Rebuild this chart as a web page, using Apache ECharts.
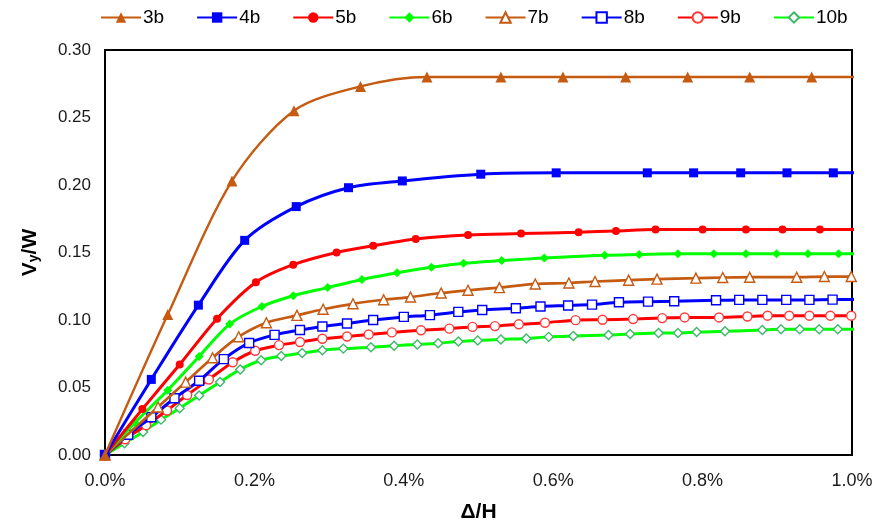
<!DOCTYPE html>
<html>
<head>
<meta charset="utf-8">
<script src="https://cdn.jsdelivr.net/npm/echarts@6/dist/echarts.min.js"></script>
<style>
  html, body { margin: 0; padding: 0; background: #fff; }
  #chart { width: 877px; height: 528px; }
</style>
</head>
<body>
<div id="chart"></div>
<script>
// Δ/H in percent, Vy/W values
var names = ['3b', '4b', '5b', '6b', '7b', '8b', '9b', '10b'];

var x3b = [0, 0.084, 0.170, 0.253, 0.342, 0.431, 0.530, 0.613, 0.697, 0.780, 0.863, 0.946, 1.029];
var y3b = [0, 0.104, 0.203, 0.255, 0.273, 0.280, 0.280, 0.280, 0.280, 0.280, 0.280, 0.280, 0.280];

var x4b = [0, 0.062, 0.125, 0.187, 0.256, 0.326, 0.398, 0.503, 0.604, 0.726, 0.788, 0.851, 0.913, 0.975, 1.037];
var y4b = [0, 0.056, 0.111, 0.159, 0.184, 0.198, 0.203, 0.208, 0.209, 0.209, 0.209, 0.209, 0.209, 0.209, 0.209];

var x5b = [0, 0.050, 0.100, 0.150, 0.202, 0.252, 0.310, 0.359, 0.416, 0.486, 0.557, 0.634, 0.684, 0.737, 0.800, 0.858, 0.907, 0.957, 1.007];
var y5b = [0, 0.034, 0.067, 0.101, 0.128, 0.141, 0.150, 0.155, 0.160, 0.163, 0.164, 0.165, 0.166, 0.167, 0.167, 0.167, 0.167, 0.167, 0.167];

var x6b = [0, 0.040, 0.084, 0.126, 0.167, 0.210, 0.252, 0.298, 0.344, 0.391, 0.437, 0.480, 0.531, 0.588, 0.669, 0.715, 0.767, 0.815, 0.858, 0.899, 0.941, 0.982, 1.024];
var y6b = [0, 0.024, 0.048, 0.073, 0.097, 0.110, 0.118, 0.124, 0.130, 0.135, 0.139, 0.142, 0.144, 0.146, 0.148, 0.1485, 0.149, 0.149, 0.149, 0.149, 0.149, 0.149, 0.149];

var x7b = [0, 0.071, 0.108, 0.144, 0.179, 0.216, 0.257, 0.292, 0.332, 0.373, 0.409, 0.450, 0.486, 0.528, 0.576, 0.621, 0.656, 0.701, 0.739, 0.791, 0.827, 0.863, 0.926, 0.963, 0.999];
var y7b = [0, 0.0356, 0.054, 0.072, 0.0876, 0.098, 0.1034, 0.108, 0.112, 0.115, 0.117, 0.120, 0.122, 0.124, 0.1267, 0.1274, 0.1285, 0.1295, 0.1303, 0.131, 0.1315, 0.1317, 0.1317, 0.1322, 0.1322];

var x8b = [0, 0.031, 0.062, 0.093, 0.126, 0.159, 0.193, 0.227, 0.261, 0.291, 0.324, 0.359, 0.400, 0.435, 0.473, 0.505, 0.550, 0.583, 0.620, 0.652, 0.688, 0.727, 0.762, 0.818, 0.849, 0.880, 0.912, 0.943, 0.974, 1.005];
var y8b = [0, 0.015, 0.028, 0.042, 0.055, 0.071, 0.083, 0.089, 0.0926, 0.0952, 0.0974, 0.100, 0.1023, 0.1036, 0.106, 0.1074, 0.1087, 0.110, 0.1107, 0.1114, 0.1131, 0.1136, 0.1139, 0.1146, 0.1149, 0.1149, 0.1149, 0.1149, 0.1151, 0.1151];

var x9b = [0, 0.027, 0.055, 0.083, 0.110, 0.139, 0.171, 0.201, 0.233, 0.261, 0.291, 0.324, 0.353, 0.384, 0.423, 0.461, 0.492, 0.522, 0.554, 0.589, 0.630, 0.666, 0.707, 0.746, 0.776, 0.822, 0.860, 0.887, 0.916, 0.943, 0.971, 0.999];
var y9b = [0, 0.0117, 0.0221, 0.033, 0.0444, 0.0559, 0.0687, 0.0772, 0.0814, 0.0837, 0.0861, 0.0878, 0.0893, 0.0908, 0.0924, 0.0936, 0.0949, 0.0955, 0.0968, 0.098, 0.0999, 0.1002, 0.1007, 0.1014, 0.1019, 0.1019, 0.1026, 0.1032, 0.1032, 0.1032, 0.1032, 0.1032];

var x10b = [0, 0.026, 0.051, 0.075, 0.100, 0.126, 0.154, 0.181, 0.209, 0.236, 0.264, 0.291, 0.319, 0.356, 0.387, 0.418, 0.446, 0.473, 0.499, 0.530, 0.564, 0.594, 0.627, 0.674, 0.703, 0.741, 0.767, 0.792, 0.830, 0.880, 0.905, 0.930, 0.956, 0.981, 1.007];
var y10b = [0, 0.0087, 0.017, 0.0262, 0.0347, 0.0441, 0.054, 0.0634, 0.0702, 0.0733, 0.0755, 0.0776, 0.0788, 0.0798, 0.081, 0.0819, 0.0828, 0.0841, 0.0848, 0.0856, 0.0863, 0.0875, 0.0881, 0.0889, 0.0897, 0.0904, 0.0904, 0.0911, 0.0916, 0.0926, 0.0931, 0.0931, 0.0931, 0.0931, 0.0931];

var xTicks = [0, 0.2, 0.4, 0.6, 0.8, 1.0];
var yTicks = [0, 0.05, 0.10, 0.15, 0.20, 0.25, 0.30];

var xs = [x3b, x4b, x5b, x6b, x7b, x8b, x9b, x10b];
var ys = [y3b, y4b, y5b, y6b, y7b, y8b, y9b, y10b];

var BROWN = '#C55A11', BLUE = '#0000FF', RED = '#FF0000', GREEN = '#00FF00';
var styles = [
  { color: BROWN, symbol: 'triangle', size: 11, filled: true, width: 2.4 },
  { color: BLUE,  symbol: 'rect',     size: 9,  filled: true, width: 3 },
  { color: RED,   symbol: 'circle',   size: 8,  filled: true, width: 3 },
  { color: GREEN, symbol: 'diamond',  size: 9,  filled: true, width: 3 },
  { color: BROWN, symbol: 'triangle', size: 10, filled: false, width: 2.7, border: BROWN },
  { color: BLUE,  symbol: 'rect',     size: 9,  filled: false, width: 3, border: BLUE },
  { color: RED,   symbol: 'circle',   size: 9,  filled: false, width: 3, border: '#FF3B3B' },
  { color: GREEN, symbol: 'diamond',  size: 9,  filled: false, width: 3, border: '#3CB96A' }
];

var series = names.map(function (n, i) {
  var s = styles[i];
  var data = xs[i].map(function (x, k) { return [x, ys[i][k]]; });
  return {
    name: n,
    type: 'line',
    data: data,
    smooth: 0.3,
    clip: true,
    symbol: s.symbol,
    symbolSize: s.size,
    showAllSymbol: true,
    lineStyle: { color: s.color, width: s.width },
    itemStyle: s.filled
      ? { color: s.color, borderColor: s.color, borderWidth: 0 }
      : { color: '#FFFFFF', borderColor: s.border, borderWidth: 1.4 },
    emphasis: { disabled: true },
    z: 10 - i
  };
});

var FONT = 'Liberation Sans, Arial, sans-serif';
var chart = echarts.init(document.getElementById('chart'), null, { renderer: 'canvas' });
chart.setOption({
  animation: false,
  backgroundColor: '#FFFFFF',
  textStyle: { fontFamily: FONT },
  legend: {
    data: names,
    top: 3,
    left: 95,
    itemWidth: 40,
    itemHeight: 13,
    itemGap: 32,
    textStyle: { fontSize: 19, color: '#000', fontFamily: FONT, padding: [0, 0, 0, -3] }
  },
  grid: { left: 105, right: 25, top: 50, bottom: 69, show: true, borderColor: '#000', borderWidth: 2, backgroundColor: 'transparent' },
  xAxis: {
    type: 'value',
    min: xTicks[0],
    max: xTicks[xTicks.length - 1],
    interval: 0.2,
    name: 'Δ/H',
    nameLocation: 'middle',
    nameGap: 47,
    nameTextStyle: { fontSize: 21, fontWeight: 'bold', color: '#000', fontFamily: FONT },
    axisLine: { show: true, lineStyle: { color: '#000', width: 2 } },
    axisTick: { show: false },
    splitLine: { show: false },
    axisLabel: {
      fontSize: 18, color: '#1a1a1a', margin: 17,
      formatter: function (v) { return v.toFixed(1) + '%'; }
    }
  },
  yAxis: {
    type: 'value',
    min: yTicks[0],
    max: yTicks[yTicks.length - 1],
    interval: 0.05,
    name: '{a|V}{b|y}{a|/W}',
    nameLocation: 'middle',
    nameGap: 64,
    nameRotate: 90,
    nameTextStyle: {
      rich: {
        a: { fontSize: 21, fontWeight: 'bold', color: '#000', fontFamily: FONT },
        b: { fontSize: 14, fontWeight: 'bold', color: '#000', fontFamily: FONT, verticalAlign: 'bottom', padding: [8, 0, 0, 0] }
      }
    },
    axisLine: { show: true, lineStyle: { color: '#000', width: 2 } },
    axisTick: { show: false },
    splitLine: { show: false },
    axisLabel: {
      fontSize: 17, color: '#1a1a1a', margin: 14,
      formatter: function (v) { return v.toFixed(2); }
    }
  },
  series: series
});
</script>
</body>
</html>
